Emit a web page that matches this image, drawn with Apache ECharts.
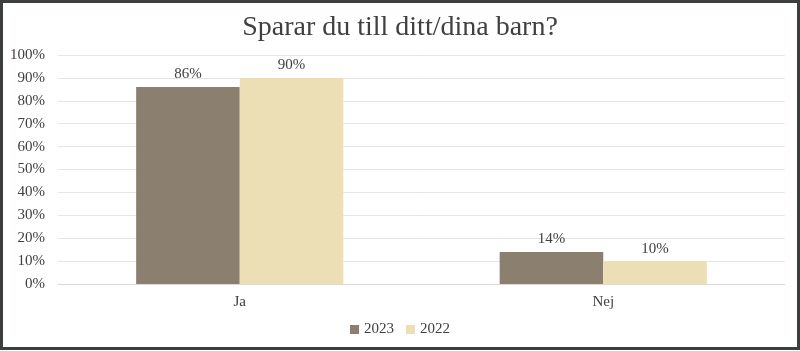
<!DOCTYPE html>
<html>
<head>
<meta charset="utf-8">
<script src="https://cdn.jsdelivr.net/npm/echarts@6/dist/echarts.min.js"></script>
<style>
html,body{margin:0;padding:0;background:#fff;}
#c{width:800px;height:351px;}
</style>
</head>
<body>
<div id="c"></div>
<script>
const categories = ['Ja', 'Nej'];
const series2023 = [86, 14];
const series2022 = [90, 10];
const yTicks = [0, 10, 20, 30, 40, 50, 60, 70, 80, 90, 100];

const FONT = '"Liberation Serif", "DejaVu Serif", serif';
const chart = echarts.init(document.getElementById('c'), null, {renderer: 'canvas'});
chart.setOption({
  backgroundColor: '#ffffff',
  animation: false,
  title: {
    text: 'Sparar du till ditt/dina barn?',
    left: 'center',
    top: 9,
    textStyle: {fontFamily: FONT, fontSize: 28, fontWeight: 'normal', color: '#404040'}
  },
  legend: {
    bottom: 9,
    left: 'center',
    itemWidth: 9,
    itemHeight: 9,
    itemGap: 12,
    icon: 'rect',
    textStyle: {fontFamily: FONT, fontSize: 15, color: '#404040'},
    data: ['2023', '2022']
  },
  grid: {left: 58, right: 15, top: 55, bottom: 67},
  xAxis: {
    type: 'category',
    data: categories,
    axisLine: {lineStyle: {color: '#d9d9d9'}},
    axisTick: {show: false},
    axisLabel: {fontFamily: FONT, fontSize: 15, color: '#404040', margin: 11}
  },
  yAxis: {
    type: 'value',
    min: yTicks[0],
    max: yTicks[yTicks.length - 1],
    interval: 10,
    axisLine: {show: false},
    axisTick: {show: false},
    splitLine: {lineStyle: {color: '#e6e6e6', width: 1}},
    axisLabel: {fontFamily: FONT, fontSize: 15, color: '#404040', margin: 13, formatter: '{value}%'}
  },
  series: [
    {
      name: '2023', type: 'bar', data: series2023,
      barGap: '0%', barCategoryGap: '43%',
      itemStyle: {color: '#8b7f6f'},
      label: {show: true, position: 'top', distance: 5, formatter: '{c}%', fontFamily: FONT, fontSize: 15, color: '#404040'}
    },
    {
      name: '2022', type: 'bar', data: series2022,
      barGap: '0%', barCategoryGap: '43%',
      itemStyle: {color: '#ecdfb6'},
      label: {show: true, position: 'top', distance: 5, formatter: '{c}%', fontFamily: FONT, fontSize: 15, color: '#404040'}
    }
  ],
  graphic: [{
    type: 'rect',
    shape: {x: 1.5, y: 1.5, width: 797, height: 347},
    style: {fill: 'none', stroke: '#3c403c', lineWidth: 3},
    silent: true
  }]
});
</script>
</body>
</html>
